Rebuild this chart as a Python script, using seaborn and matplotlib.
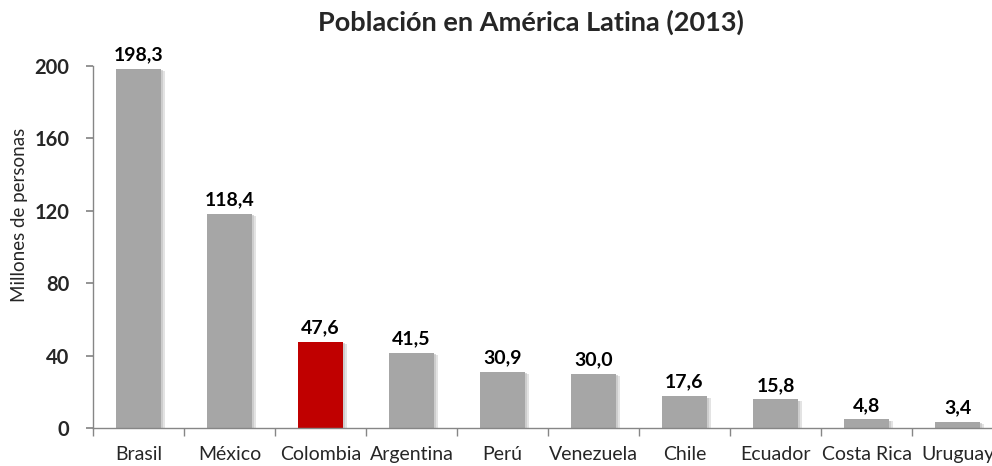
import matplotlib
matplotlib.use("Agg")
import matplotlib.pyplot as plt
import matplotlib.patheffects as pe
import seaborn as sns
import pandas as pd
import numpy as np

paises = ["Brasil", "México", "Colombia", "Argentina", "Perú", "Venezuela",
          "Chile", "Ecuador", "Costa Rica", "Uruguay"]
poblacion = [198.3, 118.4, 47.6, 41.5, 30.9, 30.0, 17.6, 15.8, 4.8, 3.4]
destacado = "Colombia"
yticks = [0, 40, 80, 120, 160, 200]

sns.set_theme(style="white")
plt.rcParams['font.family'] = ['Lato', 'DejaVu Sans']

df = pd.DataFrame({"pais": paises, "pob": poblacion})
colores = {p: ("#C00000" if p == destacado else "#A6A6A6") for p in paises}

fig = plt.figure(figsize=(9.92, 4.66), dpi=100)
ax = fig.add_axes([93/992, 1-428/466, 910/992, (428-66)/466])
sns.barplot(data=df, x="pais", y="pob", hue="pais", palette=colores,
            width=0.5, legend=False, ax=ax, saturation=1)

for p in ax.patches:
    p.set_path_effects([pe.SimplePatchShadow(offset=(3, -1.5), shadow_rgbFace="#C8C8C8", alpha=0.5),
                        pe.SimplePatchShadow(offset=(1.5, -1), shadow_rgbFace="#BFBFBF", alpha=0.6),
                        pe.Normal()])
    p.set_edgecolor("none")

for i, v in enumerate(poblacion):
    ax.text(i, v + 3, f"{v:.1f}".replace(".", ","), ha="center", va="bottom",
            fontsize=14, fontweight="bold", color="black")

ax.set_ylim(0, 200)
ax.set_xlim(-0.5, len(paises) - 0.5)
ax.set_yticks(yticks)
ax.set_yticklabels([str(t) for t in yticks], fontsize=14.5, fontweight="bold")
ax.set_xticks(range(len(paises)))
ax.set_xticklabels(paises, fontsize=14)
ax.set_xticks(np.arange(-0.5, len(paises), 1), minor=True)
ax.tick_params(axis="x", which="major", length=0, pad=13)
ax.tick_params(axis="x", which="minor", length=6, color="#868686", direction="out", bottom=True)
ax.tick_params(axis="y", length=5, color="#868686", direction="out", left=True, pad=12)
ax.set_xlabel("")
ax.set_ylabel("Millones de personas", fontsize=13.5)
ax.yaxis.set_label_coords(-0.071, 0.59)
for s in ["top", "right"]:
    ax.spines[s].set_visible(False)
for s in ["left", "bottom"]:
    ax.spines[s].set_color("#868686")
    ax.spines[s].set_linewidth(1)

fig.text(0.535, 1-22/466, "Población en América Latina (2013)", ha="center", va="center",
         fontsize=19.5, fontweight="bold")

fig.savefig("out.png", dpi=100)
